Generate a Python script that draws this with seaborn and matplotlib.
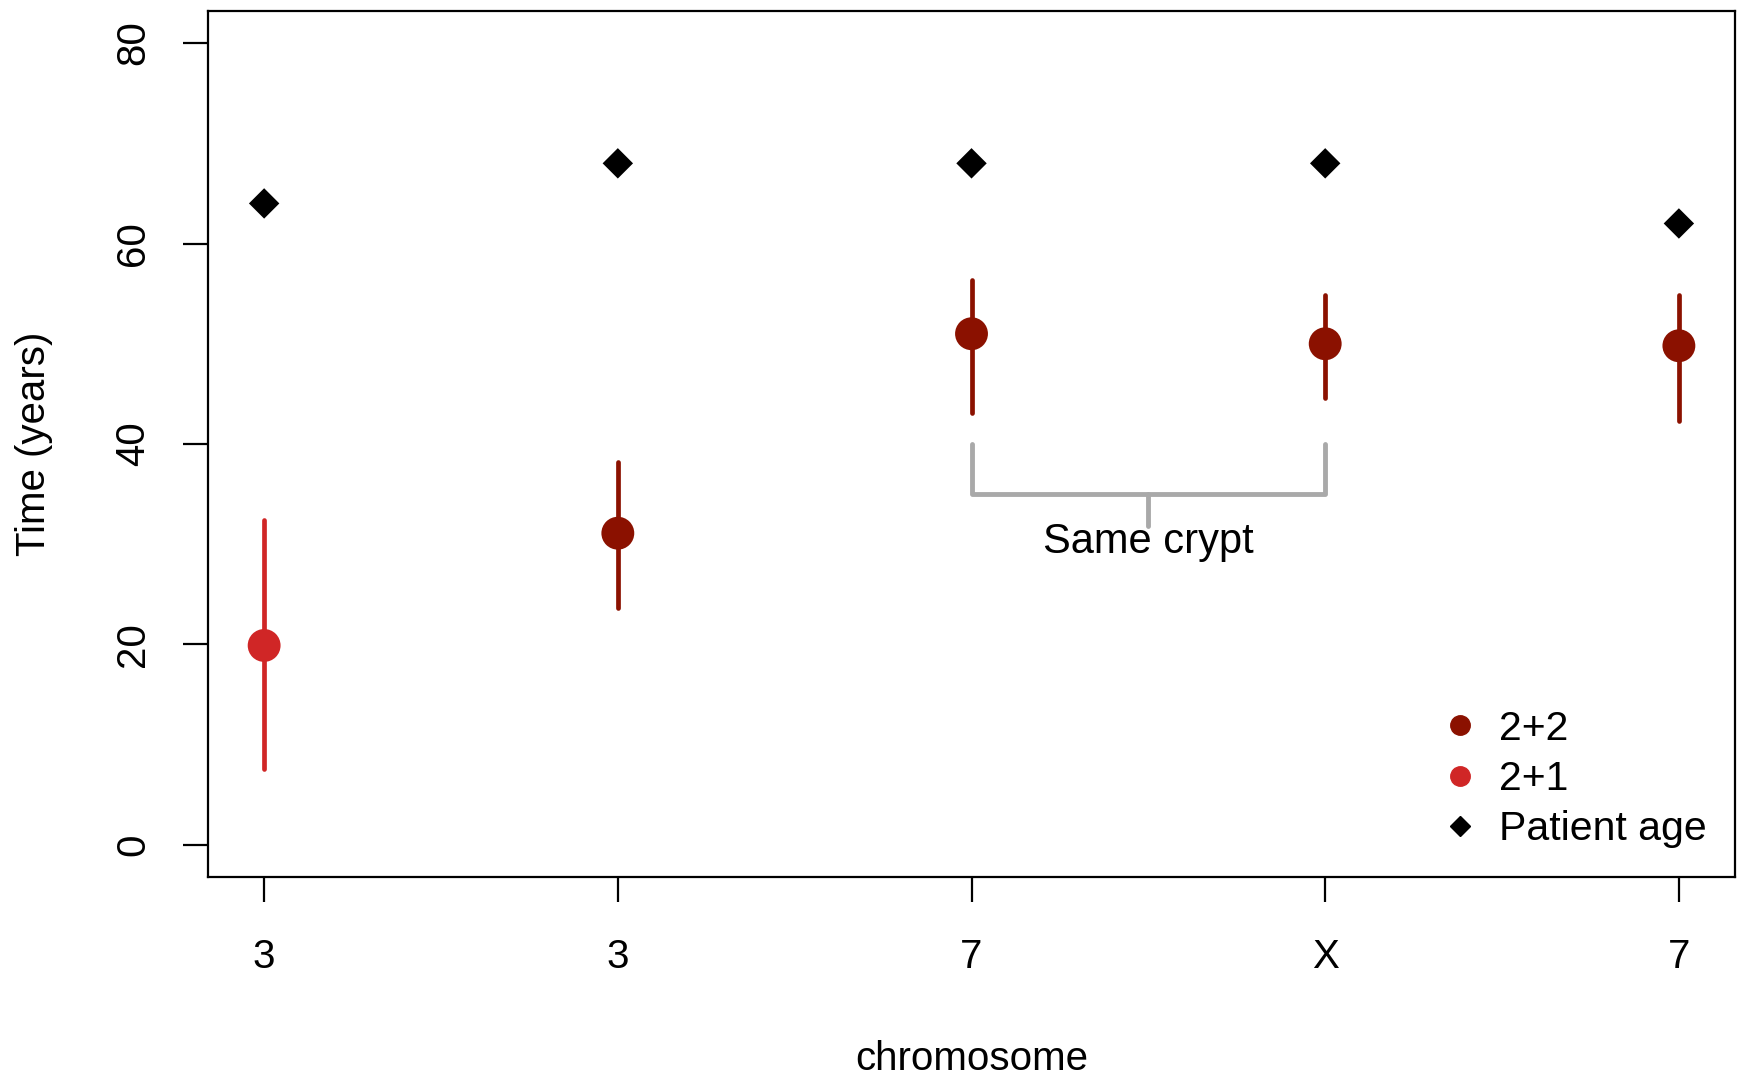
import matplotlib
matplotlib.use("Agg")
import matplotlib.pyplot as plt
from matplotlib.lines import Line2D
import seaborn as sns
import pandas as pd
import numpy as np

# values
samples = ["s1", "s2", "s3", "s4", "s5"]
chromosome = ["3", "3", "7", "X", "7"]
state = ["2+1", "2+2", "2+2", "2+2", "2+2"]
time_est = [19.9, 31.1, 51.0, 50.0, 49.8]
time_lo = [7.6, 23.6, 43.1, 44.6, 42.3]
time_hi = [32.4, 38.2, 56.4, 54.9, 54.9]
patient_age = [64, 68, 68, 68, 62]

colours = {"2+2": "#8b1100", "2+1": "#d02626"}

df = pd.DataFrame({"sample": samples, "state": state, "time": time_est,
                   "lo": time_lo, "hi": time_hi, "age": patient_age})

sns.set_style("white")
plt.rcParams["font.family"] = ["Liberation Sans", "DejaVu Sans"]
plt.rcParams["text.color"] = "black"
plt.rcParams["axes.labelcolor"] = "black"
plt.rcParams["xtick.color"] = "black"
plt.rcParams["ytick.color"] = "black"

fig = plt.figure(figsize=(17.5, 10.77), dpi=100)
ax = fig.add_axes([0.1186, 0.1857, 0.8731, 0.8041])

# error bars
for i, row in df.iterrows():
    ax.vlines(i, row["lo"], row["hi"], color=colours[row["state"]], lw=3.4,
              capstyle="round", zorder=2)

sns.scatterplot(data=df, x="sample", y="time", hue="state", palette=colours,
                s=560, edgecolor="none", legend=False, ax=ax, zorder=3)
sns.scatterplot(data=df, x="sample", y="age", color="black", marker="D",
                s=240, edgecolor="none", legend=False, ax=ax, zorder=3)

# "same crypt" bracket between samples 3 and 4
grey = "#a9a9a9"
ax.plot([2, 2, 3, 3], [40, 35, 35, 40], color=grey, lw=3.5,
        solid_joinstyle="round", solid_capstyle="round")
ax.plot([2.5, 2.5], [35, 31.8], color=grey, lw=3.5, solid_capstyle="round")
ax.text(2.5, 30.2, "Same crypt", ha="center", va="center", fontsize=30)

ax.set_xlim(-0.16, 4.16)
ax.set_ylim(-3.2, 83.2)
ax.set_xticks(range(len(samples)))
ax.set_xticklabels(chromosome)
ax.set_yticks([0, 20, 40, 60, 80])
ax.set_yticklabels(["0", "20", "40", "60", "80"], rotation=90, va="center")
ax.tick_params(axis="both", direction="out", length=18, width=1.6,
               labelsize=29, color="black", bottom=True, left=True)
ax.tick_params(axis="x", pad=26)
ax.tick_params(axis="y", pad=22)
for sp in ax.spines.values():
    sp.set_color("black")
    sp.set_linewidth(1.6)

ax.set_xlabel("chromosome", fontsize=29, labelpad=46)
ax.set_ylabel("Time (years)", fontsize=29, labelpad=44)

handles = [
    Line2D([], [], marker="o", ls="", color=colours["2+2"], markersize=14),
    Line2D([], [], marker="o", ls="", color=colours["2+1"], markersize=14),
    Line2D([], [], marker="D", ls="", color="black", markersize=10),
]
ax.legend(handles, ["2+2", "2+1", "Patient age"], loc="lower right",
          frameon=False, fontsize=29.5, handlelength=0.8, handletextpad=0.55,
          labelspacing=0.3, borderaxespad=0.3)

fig.savefig("out.png", dpi=100)
